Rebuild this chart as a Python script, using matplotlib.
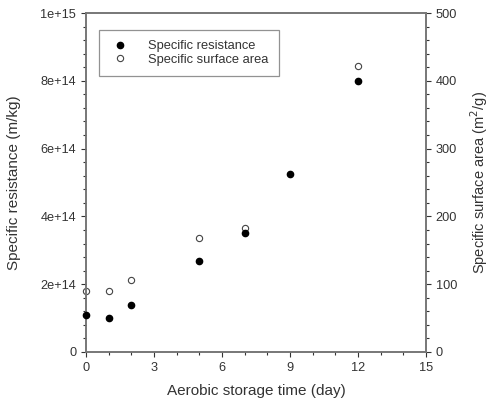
import matplotlib
matplotlib.use('Agg')
import matplotlib.pyplot as plt
from matplotlib.ticker import MultipleLocator

plt.rcParams['font.family'] = ['Liberation Sans', 'DejaVu Sans']

# aerobic storage time (day)
days_res = [0, 1, 2, 5, 7, 9, 12]
resistance = [1.08e14, 1.0e14, 1.4e14, 2.68e14, 3.5e14, 5.25e14, 8.0e14]   # m/kg

days_area = [0, 1, 2, 5, 7, 12]
surface_area = [90, 90, 106, 168, 183, 422]   # m2/g

fig = plt.figure(figsize=(4.89, 4.08), dpi=100)
ax = fig.add_axes([86 / 489, 1 - 352 / 408, 340 / 489, 339 / 408])
ax2 = ax.twinx()

ax.plot(days_res, resistance, 'o', color='black', ms=4.5, zorder=3, clip_on=False,
        label='Specific resistance')
ax2.plot(days_area, surface_area, 'o', mfc='white', mec='#444444', mew=0.8, ms=4.5,
         clip_on=False, label='Specific surface area')
ax.set_zorder(ax2.get_zorder() + 1)
ax.patch.set_visible(False)

ax.set_xlim(0, 15)
ax.set_ylim(0, 1e15)
ax2.set_ylim(0, 500)

ax.xaxis.set_major_locator(MultipleLocator(3))
ax.xaxis.set_minor_locator(MultipleLocator(1))
ax.yaxis.set_major_locator(MultipleLocator(2e14))
ax.yaxis.set_minor_locator(MultipleLocator(0.4e14))
ax2.yaxis.set_major_locator(MultipleLocator(100))
ax2.yaxis.set_minor_locator(MultipleLocator(20))

def sci(v, pos):
    if v == 0:
        return '0'
    exp = int(f'{v:e}'.split('e')[1])
    mant = v / 10 ** exp
    return f'{mant:g}e+{exp}'

ax.yaxis.set_major_formatter(plt.FuncFormatter(sci))

for a in (ax, ax2):
    a.tick_params(which='both', direction='out', labelsize=9.2, colors='#333333', width=0.8)
    a.tick_params(which='major', length=3.5)
    a.tick_params(which='minor', length=2)
    for s in a.spines.values():
        s.set_color('#777777')
        s.set_linewidth(1.2)

ax.set_xlabel('Aerobic storage time (day)', fontsize=11, color='#333333')
ax.set_ylabel('Specific resistance (m/kg)', fontsize=11, color='#333333')
ax2.set_ylabel('Specific surface area (m$^2$/g)', fontsize=10.5, color='#333333',
               rotation=90)
ax.xaxis.set_label_coords(0.5, -0.093)
ax.yaxis.set_label_coords(-0.19, 0.5)
ax2.yaxis.set_label_coords(1.124, 0.5)

h1, l1 = ax.get_legend_handles_labels()
h2, l2 = ax2.get_legend_handles_labels()
leg = ax.legend(h1 + h2, l1 + l2, loc='upper left', bbox_to_anchor=(0.038, 0.95),
                fontsize=9.3, frameon=True, fancybox=False, borderpad=0.8,
                handlelength=1.6, handletextpad=1.4, labelspacing=0.1, borderaxespad=0)
leg.get_frame().set_edgecolor('#777777')
leg.get_frame().set_linewidth(0.9)
for t in leg.get_texts():
    t.set_color('#333333')

fig.savefig('out.png', dpi=100)
